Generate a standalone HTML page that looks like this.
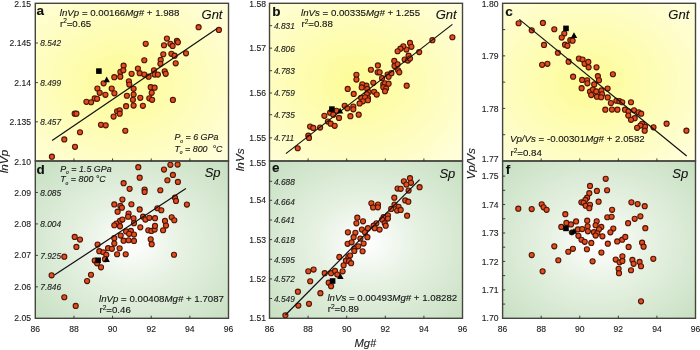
<!DOCTYPE html><html><head><meta charset="utf-8"><style>html,body{margin:0;padding:0;background:#fff;width:700px;height:350px;overflow:hidden}svg{display:block;will-change:transform}text{font-family:"Liberation Sans",sans-serif;stroke:#1a1a1a;stroke-width:0.12px}</style></head><body>
<svg width="700" height="350" viewBox="0 0 700 350">
<defs>
<radialGradient id="gy" cx="0.45" cy="0.5" r="0.72"><stop offset="0" stop-color="#FDFC96"/><stop offset="0.5" stop-color="#FEFDB8"/><stop offset="1" stop-color="#FFFEDC"/></radialGradient>
<radialGradient id="gg" cx="0.5" cy="0.52" r="0.72"><stop offset="0" stop-color="#FFFFFF"/><stop offset="0.38" stop-color="#E6F1E2"/><stop offset="1" stop-color="#C6DFC0"/></radialGradient>
</defs>
<rect x="35.3" y="3.3" width="193.20" height="157.70" fill="url(#gy)"/>
<rect x="269.5" y="3.3" width="193.00" height="157.70" fill="url(#gy)"/>
<rect x="502.6" y="3.3" width="192.90" height="157.70" fill="url(#gy)"/>
<rect x="35.3" y="161.0" width="193.20" height="157.30" fill="url(#gg)"/>
<rect x="269.5" y="161.0" width="193.00" height="157.30" fill="url(#gg)"/>
<rect x="502.6" y="161.0" width="192.90" height="157.30" fill="url(#gg)"/>
<circle cx="145.70" cy="43.85" r="2.55" fill="#E44C1C" stroke="#4E1608" stroke-width="1.1"/>
<circle cx="166.90" cy="38.55" r="2.55" fill="#E44C1C" stroke="#4E1608" stroke-width="1.1"/>
<circle cx="164.00" cy="45.25" r="2.55" fill="#E44C1C" stroke="#4E1608" stroke-width="1.1"/>
<circle cx="170.40" cy="43.85" r="2.55" fill="#E44C1C" stroke="#4E1608" stroke-width="1.1"/>
<circle cx="172.60" cy="45.95" r="2.55" fill="#E44C1C" stroke="#4E1608" stroke-width="1.1"/>
<circle cx="176.90" cy="40.95" r="2.55" fill="#E44C1C" stroke="#4E1608" stroke-width="1.1"/>
<circle cx="177.90" cy="42.35" r="2.55" fill="#E44C1C" stroke="#4E1608" stroke-width="1.1"/>
<circle cx="198.60" cy="27.15" r="2.55" fill="#E44C1C" stroke="#4E1608" stroke-width="1.1"/>
<circle cx="218.90" cy="29.95" r="2.55" fill="#E44C1C" stroke="#4E1608" stroke-width="1.1"/>
<circle cx="123.60" cy="65.65" r="2.55" fill="#E44C1C" stroke="#4E1608" stroke-width="1.1"/>
<circle cx="120.40" cy="71.95" r="2.55" fill="#E44C1C" stroke="#4E1608" stroke-width="1.1"/>
<circle cx="123.30" cy="70.25" r="2.55" fill="#E44C1C" stroke="#4E1608" stroke-width="1.1"/>
<circle cx="120.30" cy="76.65" r="2.55" fill="#E44C1C" stroke="#4E1608" stroke-width="1.1"/>
<circle cx="114.30" cy="77.15" r="2.55" fill="#E44C1C" stroke="#4E1608" stroke-width="1.1"/>
<circle cx="131.60" cy="73.85" r="2.55" fill="#E44C1C" stroke="#4E1608" stroke-width="1.1"/>
<circle cx="103.60" cy="83.35" r="2.55" fill="#E44C1C" stroke="#4E1608" stroke-width="1.1"/>
<circle cx="97.40" cy="88.55" r="2.55" fill="#E44C1C" stroke="#4E1608" stroke-width="1.1"/>
<circle cx="99.70" cy="92.85" r="2.55" fill="#E44C1C" stroke="#4E1608" stroke-width="1.1"/>
<circle cx="111.70" cy="88.55" r="2.55" fill="#E44C1C" stroke="#4E1608" stroke-width="1.1"/>
<circle cx="114.40" cy="93.35" r="2.55" fill="#E44C1C" stroke="#4E1608" stroke-width="1.1"/>
<circle cx="105.40" cy="94.85" r="2.55" fill="#E44C1C" stroke="#4E1608" stroke-width="1.1"/>
<circle cx="128.90" cy="81.35" r="2.55" fill="#E44C1C" stroke="#4E1608" stroke-width="1.1"/>
<circle cx="129.30" cy="84.55" r="2.55" fill="#E44C1C" stroke="#4E1608" stroke-width="1.1"/>
<circle cx="133.60" cy="88.85" r="2.55" fill="#E44C1C" stroke="#4E1608" stroke-width="1.1"/>
<circle cx="126.90" cy="95.75" r="2.55" fill="#E44C1C" stroke="#4E1608" stroke-width="1.1"/>
<circle cx="133.60" cy="94.55" r="2.55" fill="#E44C1C" stroke="#4E1608" stroke-width="1.1"/>
<circle cx="94.70" cy="98.45" r="2.55" fill="#E44C1C" stroke="#4E1608" stroke-width="1.1"/>
<circle cx="97.10" cy="98.85" r="2.55" fill="#E44C1C" stroke="#4E1608" stroke-width="1.1"/>
<circle cx="163.30" cy="54.25" r="2.55" fill="#E44C1C" stroke="#4E1608" stroke-width="1.1"/>
<circle cx="171.40" cy="53.85" r="2.55" fill="#E44C1C" stroke="#4E1608" stroke-width="1.1"/>
<circle cx="174.60" cy="55.65" r="2.55" fill="#E44C1C" stroke="#4E1608" stroke-width="1.1"/>
<circle cx="186.00" cy="53.35" r="2.55" fill="#E44C1C" stroke="#4E1608" stroke-width="1.1"/>
<circle cx="144.30" cy="60.25" r="2.55" fill="#E44C1C" stroke="#4E1608" stroke-width="1.1"/>
<circle cx="160.70" cy="59.95" r="2.55" fill="#E44C1C" stroke="#4E1608" stroke-width="1.1"/>
<circle cx="160.40" cy="63.85" r="2.55" fill="#E44C1C" stroke="#4E1608" stroke-width="1.1"/>
<circle cx="175.70" cy="63.35" r="2.55" fill="#E44C1C" stroke="#4E1608" stroke-width="1.1"/>
<circle cx="137.90" cy="68.55" r="2.55" fill="#E44C1C" stroke="#4E1608" stroke-width="1.1"/>
<circle cx="139.70" cy="73.15" r="2.55" fill="#E44C1C" stroke="#4E1608" stroke-width="1.1"/>
<circle cx="144.30" cy="74.55" r="2.55" fill="#E44C1C" stroke="#4E1608" stroke-width="1.1"/>
<circle cx="148.60" cy="76.65" r="2.55" fill="#E44C1C" stroke="#4E1608" stroke-width="1.1"/>
<circle cx="154.00" cy="70.25" r="2.55" fill="#E44C1C" stroke="#4E1608" stroke-width="1.1"/>
<circle cx="154.60" cy="74.55" r="2.55" fill="#E44C1C" stroke="#4E1608" stroke-width="1.1"/>
<circle cx="157.90" cy="74.55" r="2.55" fill="#E44C1C" stroke="#4E1608" stroke-width="1.1"/>
<circle cx="164.70" cy="71.35" r="2.55" fill="#E44C1C" stroke="#4E1608" stroke-width="1.1"/>
<circle cx="165.70" cy="73.85" r="2.55" fill="#E44C1C" stroke="#4E1608" stroke-width="1.1"/>
<circle cx="150.70" cy="87.15" r="2.55" fill="#E44C1C" stroke="#4E1608" stroke-width="1.1"/>
<circle cx="154.60" cy="87.65" r="2.55" fill="#E44C1C" stroke="#4E1608" stroke-width="1.1"/>
<circle cx="151.70" cy="92.85" r="2.55" fill="#E44C1C" stroke="#4E1608" stroke-width="1.1"/>
<circle cx="140.30" cy="97.85" r="2.55" fill="#E44C1C" stroke="#4E1608" stroke-width="1.1"/>
<circle cx="149.30" cy="98.35" r="2.55" fill="#E44C1C" stroke="#4E1608" stroke-width="1.1"/>
<circle cx="152.10" cy="99.85" r="2.55" fill="#E44C1C" stroke="#4E1608" stroke-width="1.1"/>
<circle cx="172.90" cy="99.95" r="2.55" fill="#E44C1C" stroke="#4E1608" stroke-width="1.1"/>
<circle cx="132.90" cy="99.85" r="2.55" fill="#E44C1C" stroke="#4E1608" stroke-width="1.1"/>
<circle cx="86.40" cy="101.85" r="2.55" fill="#E44C1C" stroke="#4E1608" stroke-width="1.1"/>
<circle cx="91.10" cy="102.25" r="2.55" fill="#E44C1C" stroke="#4E1608" stroke-width="1.1"/>
<circle cx="74.70" cy="113.65" r="2.55" fill="#E44C1C" stroke="#4E1608" stroke-width="1.1"/>
<circle cx="76.40" cy="113.65" r="2.55" fill="#E44C1C" stroke="#4E1608" stroke-width="1.1"/>
<circle cx="126.10" cy="106.15" r="2.55" fill="#E44C1C" stroke="#4E1608" stroke-width="1.1"/>
<circle cx="133.60" cy="105.55" r="2.55" fill="#E44C1C" stroke="#4E1608" stroke-width="1.1"/>
<circle cx="117.10" cy="111.25" r="2.55" fill="#E44C1C" stroke="#4E1608" stroke-width="1.1"/>
<circle cx="119.70" cy="110.35" r="2.55" fill="#E44C1C" stroke="#4E1608" stroke-width="1.1"/>
<circle cx="119.70" cy="113.65" r="2.55" fill="#E44C1C" stroke="#4E1608" stroke-width="1.1"/>
<circle cx="113.60" cy="116.55" r="2.55" fill="#E44C1C" stroke="#4E1608" stroke-width="1.1"/>
<circle cx="101.00" cy="124.85" r="2.55" fill="#E44C1C" stroke="#4E1608" stroke-width="1.1"/>
<circle cx="105.70" cy="125.35" r="2.55" fill="#E44C1C" stroke="#4E1608" stroke-width="1.1"/>
<circle cx="125.30" cy="130.75" r="2.55" fill="#E44C1C" stroke="#4E1608" stroke-width="1.1"/>
<circle cx="80.00" cy="132.25" r="2.55" fill="#E44C1C" stroke="#4E1608" stroke-width="1.1"/>
<circle cx="64.30" cy="139.45" r="2.55" fill="#E44C1C" stroke="#4E1608" stroke-width="1.1"/>
<circle cx="75.00" cy="146.85" r="2.55" fill="#E44C1C" stroke="#4E1608" stroke-width="1.1"/>
<circle cx="142.90" cy="105.85" r="2.55" fill="#E44C1C" stroke="#4E1608" stroke-width="1.1"/>
<circle cx="51.90" cy="156.65" r="2.55" fill="#E44C1C" stroke="#4E1608" stroke-width="1.1"/>
<circle cx="452.40" cy="37.25" r="2.55" fill="#E44C1C" stroke="#4E1608" stroke-width="1.1"/>
<circle cx="432.40" cy="40.15" r="2.55" fill="#E44C1C" stroke="#4E1608" stroke-width="1.1"/>
<circle cx="410.00" cy="42.95" r="2.55" fill="#E44C1C" stroke="#4E1608" stroke-width="1.1"/>
<circle cx="411.40" cy="46.85" r="2.55" fill="#E44C1C" stroke="#4E1608" stroke-width="1.1"/>
<circle cx="406.40" cy="49.55" r="2.55" fill="#E44C1C" stroke="#4E1608" stroke-width="1.1"/>
<circle cx="403.30" cy="46.35" r="2.55" fill="#E44C1C" stroke="#4E1608" stroke-width="1.1"/>
<circle cx="400.40" cy="48.65" r="2.55" fill="#E44C1C" stroke="#4E1608" stroke-width="1.1"/>
<circle cx="397.60" cy="51.25" r="2.55" fill="#E44C1C" stroke="#4E1608" stroke-width="1.1"/>
<circle cx="419.20" cy="52.05" r="2.55" fill="#E44C1C" stroke="#4E1608" stroke-width="1.1"/>
<circle cx="408.60" cy="55.65" r="2.55" fill="#E44C1C" stroke="#4E1608" stroke-width="1.1"/>
<circle cx="404.70" cy="59.55" r="2.55" fill="#E44C1C" stroke="#4E1608" stroke-width="1.1"/>
<circle cx="407.90" cy="60.55" r="2.55" fill="#E44C1C" stroke="#4E1608" stroke-width="1.1"/>
<circle cx="410.00" cy="58.55" r="2.55" fill="#E44C1C" stroke="#4E1608" stroke-width="1.1"/>
<circle cx="394.30" cy="60.95" r="2.55" fill="#E44C1C" stroke="#4E1608" stroke-width="1.1"/>
<circle cx="394.50" cy="65.95" r="2.55" fill="#E44C1C" stroke="#4E1608" stroke-width="1.1"/>
<circle cx="397.60" cy="64.25" r="2.55" fill="#E44C1C" stroke="#4E1608" stroke-width="1.1"/>
<circle cx="398.10" cy="70.25" r="2.55" fill="#E44C1C" stroke="#4E1608" stroke-width="1.1"/>
<circle cx="399.30" cy="72.35" r="2.55" fill="#E44C1C" stroke="#4E1608" stroke-width="1.1"/>
<circle cx="377.90" cy="65.45" r="2.55" fill="#E44C1C" stroke="#4E1608" stroke-width="1.1"/>
<circle cx="370.90" cy="69.75" r="2.55" fill="#E44C1C" stroke="#4E1608" stroke-width="1.1"/>
<circle cx="377.60" cy="72.35" r="2.55" fill="#E44C1C" stroke="#4E1608" stroke-width="1.1"/>
<circle cx="379.60" cy="72.35" r="2.55" fill="#E44C1C" stroke="#4E1608" stroke-width="1.1"/>
<circle cx="382.10" cy="78.15" r="2.55" fill="#E44C1C" stroke="#4E1608" stroke-width="1.1"/>
<circle cx="387.60" cy="74.55" r="2.55" fill="#E44C1C" stroke="#4E1608" stroke-width="1.1"/>
<circle cx="388.60" cy="76.65" r="2.55" fill="#E44C1C" stroke="#4E1608" stroke-width="1.1"/>
<circle cx="391.40" cy="73.15" r="2.55" fill="#E44C1C" stroke="#4E1608" stroke-width="1.1"/>
<circle cx="373.30" cy="82.85" r="2.55" fill="#E44C1C" stroke="#4E1608" stroke-width="1.1"/>
<circle cx="383.30" cy="84.25" r="2.55" fill="#E44C1C" stroke="#4E1608" stroke-width="1.1"/>
<circle cx="385.00" cy="83.35" r="2.55" fill="#E44C1C" stroke="#4E1608" stroke-width="1.1"/>
<circle cx="388.60" cy="83.65" r="2.55" fill="#E44C1C" stroke="#4E1608" stroke-width="1.1"/>
<circle cx="383.30" cy="87.15" r="2.55" fill="#E44C1C" stroke="#4E1608" stroke-width="1.1"/>
<circle cx="386.10" cy="88.55" r="2.55" fill="#E44C1C" stroke="#4E1608" stroke-width="1.1"/>
<circle cx="385.00" cy="91.15" r="2.55" fill="#E44C1C" stroke="#4E1608" stroke-width="1.1"/>
<circle cx="406.70" cy="85.65" r="2.55" fill="#E44C1C" stroke="#4E1608" stroke-width="1.1"/>
<circle cx="366.40" cy="85.65" r="2.55" fill="#E44C1C" stroke="#4E1608" stroke-width="1.1"/>
<circle cx="367.30" cy="88.95" r="2.55" fill="#E44C1C" stroke="#4E1608" stroke-width="1.1"/>
<circle cx="374.10" cy="91.85" r="2.55" fill="#E44C1C" stroke="#4E1608" stroke-width="1.1"/>
<circle cx="376.70" cy="94.55" r="2.55" fill="#E44C1C" stroke="#4E1608" stroke-width="1.1"/>
<circle cx="368.60" cy="92.35" r="2.55" fill="#E44C1C" stroke="#4E1608" stroke-width="1.1"/>
<circle cx="366.80" cy="94.15" r="2.55" fill="#E44C1C" stroke="#4E1608" stroke-width="1.1"/>
<circle cx="368.00" cy="98.15" r="2.55" fill="#E44C1C" stroke="#4E1608" stroke-width="1.1"/>
<circle cx="356.40" cy="74.85" r="2.55" fill="#E44C1C" stroke="#4E1608" stroke-width="1.1"/>
<circle cx="356.40" cy="79.55" r="2.55" fill="#E44C1C" stroke="#4E1608" stroke-width="1.1"/>
<circle cx="347.70" cy="88.95" r="2.55" fill="#E44C1C" stroke="#4E1608" stroke-width="1.1"/>
<circle cx="353.70" cy="93.95" r="2.55" fill="#E44C1C" stroke="#4E1608" stroke-width="1.1"/>
<circle cx="362.30" cy="84.35" r="2.55" fill="#E44C1C" stroke="#4E1608" stroke-width="1.1"/>
<circle cx="361.70" cy="87.45" r="2.55" fill="#E44C1C" stroke="#4E1608" stroke-width="1.1"/>
<circle cx="361.10" cy="97.75" r="2.55" fill="#E44C1C" stroke="#4E1608" stroke-width="1.1"/>
<circle cx="365.00" cy="97.35" r="2.55" fill="#E44C1C" stroke="#4E1608" stroke-width="1.1"/>
<circle cx="367.90" cy="100.25" r="2.55" fill="#E44C1C" stroke="#4E1608" stroke-width="1.1"/>
<circle cx="362.90" cy="101.35" r="2.55" fill="#E44C1C" stroke="#4E1608" stroke-width="1.1"/>
<circle cx="359.60" cy="103.45" r="2.55" fill="#E44C1C" stroke="#4E1608" stroke-width="1.1"/>
<circle cx="336.40" cy="110.85" r="2.55" fill="#E44C1C" stroke="#4E1608" stroke-width="1.1"/>
<circle cx="330.10" cy="112.65" r="2.55" fill="#E44C1C" stroke="#4E1608" stroke-width="1.1"/>
<circle cx="333.30" cy="114.65" r="2.55" fill="#E44C1C" stroke="#4E1608" stroke-width="1.1"/>
<circle cx="324.40" cy="115.85" r="2.55" fill="#E44C1C" stroke="#4E1608" stroke-width="1.1"/>
<circle cx="339.00" cy="117.95" r="2.55" fill="#E44C1C" stroke="#4E1608" stroke-width="1.1"/>
<circle cx="327.90" cy="121.55" r="2.55" fill="#E44C1C" stroke="#4E1608" stroke-width="1.1"/>
<circle cx="330.70" cy="123.65" r="2.55" fill="#E44C1C" stroke="#4E1608" stroke-width="1.1"/>
<circle cx="334.70" cy="125.85" r="2.55" fill="#E44C1C" stroke="#4E1608" stroke-width="1.1"/>
<circle cx="320.10" cy="127.55" r="2.55" fill="#E44C1C" stroke="#4E1608" stroke-width="1.1"/>
<circle cx="310.10" cy="126.55" r="2.55" fill="#E44C1C" stroke="#4E1608" stroke-width="1.1"/>
<circle cx="313.30" cy="127.95" r="2.55" fill="#E44C1C" stroke="#4E1608" stroke-width="1.1"/>
<circle cx="308.30" cy="135.65" r="2.55" fill="#E44C1C" stroke="#4E1608" stroke-width="1.1"/>
<circle cx="309.00" cy="137.95" r="2.55" fill="#E44C1C" stroke="#4E1608" stroke-width="1.1"/>
<circle cx="297.70" cy="148.25" r="2.55" fill="#E44C1C" stroke="#4E1608" stroke-width="1.1"/>
<circle cx="344.70" cy="105.85" r="2.55" fill="#E44C1C" stroke="#4E1608" stroke-width="1.1"/>
<circle cx="347.30" cy="108.35" r="2.55" fill="#E44C1C" stroke="#4E1608" stroke-width="1.1"/>
<circle cx="353.30" cy="106.55" r="2.55" fill="#E44C1C" stroke="#4E1608" stroke-width="1.1"/>
<circle cx="353.30" cy="109.35" r="2.55" fill="#E44C1C" stroke="#4E1608" stroke-width="1.1"/>
<circle cx="350.40" cy="116.15" r="2.55" fill="#E44C1C" stroke="#4E1608" stroke-width="1.1"/>
<circle cx="358.70" cy="114.65" r="2.55" fill="#E44C1C" stroke="#4E1608" stroke-width="1.1"/>
<circle cx="518.60" cy="23.25" r="2.55" fill="#E44C1C" stroke="#4E1608" stroke-width="1.1"/>
<circle cx="531.70" cy="30.35" r="2.55" fill="#E44C1C" stroke="#4E1608" stroke-width="1.1"/>
<circle cx="542.90" cy="22.95" r="2.55" fill="#E44C1C" stroke="#4E1608" stroke-width="1.1"/>
<circle cx="554.30" cy="29.25" r="2.55" fill="#E44C1C" stroke="#4E1608" stroke-width="1.1"/>
<circle cx="564.30" cy="33.55" r="2.55" fill="#E44C1C" stroke="#4E1608" stroke-width="1.1"/>
<circle cx="561.70" cy="37.55" r="2.55" fill="#E44C1C" stroke="#4E1608" stroke-width="1.1"/>
<circle cx="570.30" cy="40.15" r="2.55" fill="#E44C1C" stroke="#4E1608" stroke-width="1.1"/>
<circle cx="572.60" cy="40.65" r="2.55" fill="#E44C1C" stroke="#4E1608" stroke-width="1.1"/>
<circle cx="544.00" cy="44.95" r="2.55" fill="#E44C1C" stroke="#4E1608" stroke-width="1.1"/>
<circle cx="565.00" cy="44.65" r="2.55" fill="#E44C1C" stroke="#4E1608" stroke-width="1.1"/>
<circle cx="567.40" cy="45.85" r="2.55" fill="#E44C1C" stroke="#4E1608" stroke-width="1.1"/>
<circle cx="557.90" cy="52.75" r="2.55" fill="#E44C1C" stroke="#4E1608" stroke-width="1.1"/>
<circle cx="542.10" cy="64.85" r="2.55" fill="#E44C1C" stroke="#4E1608" stroke-width="1.1"/>
<circle cx="547.40" cy="63.85" r="2.55" fill="#E44C1C" stroke="#4E1608" stroke-width="1.1"/>
<circle cx="568.60" cy="61.65" r="2.55" fill="#E44C1C" stroke="#4E1608" stroke-width="1.1"/>
<circle cx="578.90" cy="58.55" r="2.55" fill="#E44C1C" stroke="#4E1608" stroke-width="1.1"/>
<circle cx="582.60" cy="59.55" r="2.55" fill="#E44C1C" stroke="#4E1608" stroke-width="1.1"/>
<circle cx="584.60" cy="63.85" r="2.55" fill="#E44C1C" stroke="#4E1608" stroke-width="1.1"/>
<circle cx="588.30" cy="61.95" r="2.55" fill="#E44C1C" stroke="#4E1608" stroke-width="1.1"/>
<circle cx="588.60" cy="67.35" r="2.55" fill="#E44C1C" stroke="#4E1608" stroke-width="1.1"/>
<circle cx="596.50" cy="67.35" r="2.55" fill="#E44C1C" stroke="#4E1608" stroke-width="1.1"/>
<circle cx="573.10" cy="76.65" r="2.55" fill="#E44C1C" stroke="#4E1608" stroke-width="1.1"/>
<circle cx="582.10" cy="79.95" r="2.55" fill="#E44C1C" stroke="#4E1608" stroke-width="1.1"/>
<circle cx="587.10" cy="80.25" r="2.55" fill="#E44C1C" stroke="#4E1608" stroke-width="1.1"/>
<circle cx="587.40" cy="83.35" r="2.55" fill="#E44C1C" stroke="#4E1608" stroke-width="1.1"/>
<circle cx="594.20" cy="84.45" r="2.55" fill="#E44C1C" stroke="#4E1608" stroke-width="1.1"/>
<circle cx="597.90" cy="76.15" r="2.55" fill="#E44C1C" stroke="#4E1608" stroke-width="1.1"/>
<circle cx="599.00" cy="80.25" r="2.55" fill="#E44C1C" stroke="#4E1608" stroke-width="1.1"/>
<circle cx="581.60" cy="88.15" r="2.55" fill="#E44C1C" stroke="#4E1608" stroke-width="1.1"/>
<circle cx="590.00" cy="91.65" r="2.55" fill="#E44C1C" stroke="#4E1608" stroke-width="1.1"/>
<circle cx="592.90" cy="89.55" r="2.55" fill="#E44C1C" stroke="#4E1608" stroke-width="1.1"/>
<circle cx="596.20" cy="91.45" r="2.55" fill="#E44C1C" stroke="#4E1608" stroke-width="1.1"/>
<circle cx="591.20" cy="95.05" r="2.55" fill="#E44C1C" stroke="#4E1608" stroke-width="1.1"/>
<circle cx="596.90" cy="96.65" r="2.55" fill="#E44C1C" stroke="#4E1608" stroke-width="1.1"/>
<circle cx="601.40" cy="90.45" r="2.55" fill="#E44C1C" stroke="#4E1608" stroke-width="1.1"/>
<circle cx="602.10" cy="94.25" r="2.55" fill="#E44C1C" stroke="#4E1608" stroke-width="1.1"/>
<circle cx="601.20" cy="97.25" r="2.55" fill="#E44C1C" stroke="#4E1608" stroke-width="1.1"/>
<circle cx="612.90" cy="74.25" r="2.55" fill="#E44C1C" stroke="#4E1608" stroke-width="1.1"/>
<circle cx="607.60" cy="88.55" r="2.55" fill="#E44C1C" stroke="#4E1608" stroke-width="1.1"/>
<circle cx="607.70" cy="97.45" r="2.55" fill="#E44C1C" stroke="#4E1608" stroke-width="1.1"/>
<circle cx="610.90" cy="103.05" r="2.55" fill="#E44C1C" stroke="#4E1608" stroke-width="1.1"/>
<circle cx="616.40" cy="100.75" r="2.55" fill="#E44C1C" stroke="#4E1608" stroke-width="1.1"/>
<circle cx="619.40" cy="101.15" r="2.55" fill="#E44C1C" stroke="#4E1608" stroke-width="1.1"/>
<circle cx="622.20" cy="102.25" r="2.55" fill="#E44C1C" stroke="#4E1608" stroke-width="1.1"/>
<circle cx="631.00" cy="102.25" r="2.55" fill="#E44C1C" stroke="#4E1608" stroke-width="1.1"/>
<circle cx="605.30" cy="109.65" r="2.55" fill="#E44C1C" stroke="#4E1608" stroke-width="1.1"/>
<circle cx="612.00" cy="109.55" r="2.55" fill="#E44C1C" stroke="#4E1608" stroke-width="1.1"/>
<circle cx="617.40" cy="109.65" r="2.55" fill="#E44C1C" stroke="#4E1608" stroke-width="1.1"/>
<circle cx="625.00" cy="109.65" r="2.55" fill="#E44C1C" stroke="#4E1608" stroke-width="1.1"/>
<circle cx="628.50" cy="111.25" r="2.55" fill="#E44C1C" stroke="#4E1608" stroke-width="1.1"/>
<circle cx="634.00" cy="110.25" r="2.55" fill="#E44C1C" stroke="#4E1608" stroke-width="1.1"/>
<circle cx="638.60" cy="112.35" r="2.55" fill="#E44C1C" stroke="#4E1608" stroke-width="1.1"/>
<circle cx="641.20" cy="113.65" r="2.55" fill="#E44C1C" stroke="#4E1608" stroke-width="1.1"/>
<circle cx="628.30" cy="115.55" r="2.55" fill="#E44C1C" stroke="#4E1608" stroke-width="1.1"/>
<circle cx="634.70" cy="118.15" r="2.55" fill="#E44C1C" stroke="#4E1608" stroke-width="1.1"/>
<circle cx="631.00" cy="119.85" r="2.55" fill="#E44C1C" stroke="#4E1608" stroke-width="1.1"/>
<circle cx="666.60" cy="123.65" r="2.55" fill="#E44C1C" stroke="#4E1608" stroke-width="1.1"/>
<circle cx="653.50" cy="127.35" r="2.55" fill="#E44C1C" stroke="#4E1608" stroke-width="1.1"/>
<circle cx="642.10" cy="123.85" r="2.55" fill="#E44C1C" stroke="#4E1608" stroke-width="1.1"/>
<circle cx="645.00" cy="126.65" r="2.55" fill="#E44C1C" stroke="#4E1608" stroke-width="1.1"/>
<circle cx="640.40" cy="125.55" r="2.55" fill="#E44C1C" stroke="#4E1608" stroke-width="1.1"/>
<circle cx="637.10" cy="127.85" r="2.55" fill="#E44C1C" stroke="#4E1608" stroke-width="1.1"/>
<circle cx="644.70" cy="130.65" r="2.55" fill="#E44C1C" stroke="#4E1608" stroke-width="1.1"/>
<circle cx="686.40" cy="130.65" r="2.55" fill="#E44C1C" stroke="#4E1608" stroke-width="1.1"/>
<circle cx="123.60" cy="183.15" r="2.55" fill="#E44C1C" stroke="#4E1608" stroke-width="1.1"/>
<circle cx="129.60" cy="188.85" r="2.55" fill="#E44C1C" stroke="#4E1608" stroke-width="1.1"/>
<circle cx="122.40" cy="199.55" r="2.55" fill="#E44C1C" stroke="#4E1608" stroke-width="1.1"/>
<circle cx="114.30" cy="204.45" r="2.55" fill="#E44C1C" stroke="#4E1608" stroke-width="1.1"/>
<circle cx="120.40" cy="205.95" r="2.55" fill="#E44C1C" stroke="#4E1608" stroke-width="1.1"/>
<circle cx="121.90" cy="207.75" r="2.55" fill="#E44C1C" stroke="#4E1608" stroke-width="1.1"/>
<circle cx="131.40" cy="204.25" r="2.55" fill="#E44C1C" stroke="#4E1608" stroke-width="1.1"/>
<circle cx="138.30" cy="167.15" r="2.55" fill="#E44C1C" stroke="#4E1608" stroke-width="1.1"/>
<circle cx="170.40" cy="164.85" r="2.55" fill="#E44C1C" stroke="#4E1608" stroke-width="1.1"/>
<circle cx="177.60" cy="164.55" r="2.55" fill="#E44C1C" stroke="#4E1608" stroke-width="1.1"/>
<circle cx="164.00" cy="169.55" r="2.55" fill="#E44C1C" stroke="#4E1608" stroke-width="1.1"/>
<circle cx="172.90" cy="174.95" r="2.55" fill="#E44C1C" stroke="#4E1608" stroke-width="1.1"/>
<circle cx="139.70" cy="177.65" r="2.55" fill="#E44C1C" stroke="#4E1608" stroke-width="1.1"/>
<circle cx="167.40" cy="180.25" r="2.55" fill="#E44C1C" stroke="#4E1608" stroke-width="1.1"/>
<circle cx="177.90" cy="181.95" r="2.55" fill="#E44C1C" stroke="#4E1608" stroke-width="1.1"/>
<circle cx="144.60" cy="189.55" r="2.55" fill="#E44C1C" stroke="#4E1608" stroke-width="1.1"/>
<circle cx="144.60" cy="191.95" r="2.55" fill="#E44C1C" stroke="#4E1608" stroke-width="1.1"/>
<circle cx="160.30" cy="190.25" r="2.55" fill="#E44C1C" stroke="#4E1608" stroke-width="1.1"/>
<circle cx="175.00" cy="197.65" r="2.55" fill="#E44C1C" stroke="#4E1608" stroke-width="1.1"/>
<circle cx="176.00" cy="200.95" r="2.55" fill="#E44C1C" stroke="#4E1608" stroke-width="1.1"/>
<circle cx="186.90" cy="204.55" r="2.55" fill="#E44C1C" stroke="#4E1608" stroke-width="1.1"/>
<circle cx="139.70" cy="209.45" r="2.55" fill="#E44C1C" stroke="#4E1608" stroke-width="1.1"/>
<circle cx="157.40" cy="208.25" r="2.55" fill="#E44C1C" stroke="#4E1608" stroke-width="1.1"/>
<circle cx="161.30" cy="210.25" r="2.55" fill="#E44C1C" stroke="#4E1608" stroke-width="1.1"/>
<circle cx="117.60" cy="211.65" r="2.55" fill="#E44C1C" stroke="#4E1608" stroke-width="1.1"/>
<circle cx="128.60" cy="213.55" r="2.55" fill="#E44C1C" stroke="#4E1608" stroke-width="1.1"/>
<circle cx="128.10" cy="216.65" r="2.55" fill="#E44C1C" stroke="#4E1608" stroke-width="1.1"/>
<circle cx="133.50" cy="218.25" r="2.55" fill="#E44C1C" stroke="#4E1608" stroke-width="1.1"/>
<circle cx="120.00" cy="220.95" r="2.55" fill="#E44C1C" stroke="#4E1608" stroke-width="1.1"/>
<circle cx="122.40" cy="219.55" r="2.55" fill="#E44C1C" stroke="#4E1608" stroke-width="1.1"/>
<circle cx="116.40" cy="223.55" r="2.55" fill="#E44C1C" stroke="#4E1608" stroke-width="1.1"/>
<circle cx="114.30" cy="225.25" r="2.55" fill="#E44C1C" stroke="#4E1608" stroke-width="1.1"/>
<circle cx="120.00" cy="226.35" r="2.55" fill="#E44C1C" stroke="#4E1608" stroke-width="1.1"/>
<circle cx="134.00" cy="223.15" r="2.55" fill="#E44C1C" stroke="#4E1608" stroke-width="1.1"/>
<circle cx="126.10" cy="231.45" r="2.55" fill="#E44C1C" stroke="#4E1608" stroke-width="1.1"/>
<circle cx="130.90" cy="230.95" r="2.55" fill="#E44C1C" stroke="#4E1608" stroke-width="1.1"/>
<circle cx="129.10" cy="233.85" r="2.55" fill="#E44C1C" stroke="#4E1608" stroke-width="1.1"/>
<circle cx="134.00" cy="234.55" r="2.55" fill="#E44C1C" stroke="#4E1608" stroke-width="1.1"/>
<circle cx="120.70" cy="235.55" r="2.55" fill="#E44C1C" stroke="#4E1608" stroke-width="1.1"/>
<circle cx="114.30" cy="238.15" r="2.55" fill="#E44C1C" stroke="#4E1608" stroke-width="1.1"/>
<circle cx="123.60" cy="240.65" r="2.55" fill="#E44C1C" stroke="#4E1608" stroke-width="1.1"/>
<circle cx="128.60" cy="240.25" r="2.55" fill="#E44C1C" stroke="#4E1608" stroke-width="1.1"/>
<circle cx="134.00" cy="240.95" r="2.55" fill="#E44C1C" stroke="#4E1608" stroke-width="1.1"/>
<circle cx="74.70" cy="236.95" r="2.55" fill="#E44C1C" stroke="#4E1608" stroke-width="1.1"/>
<circle cx="80.00" cy="239.55" r="2.55" fill="#E44C1C" stroke="#4E1608" stroke-width="1.1"/>
<circle cx="76.40" cy="246.95" r="2.55" fill="#E44C1C" stroke="#4E1608" stroke-width="1.1"/>
<circle cx="97.60" cy="244.55" r="2.55" fill="#E44C1C" stroke="#4E1608" stroke-width="1.1"/>
<circle cx="114.30" cy="243.55" r="2.55" fill="#E44C1C" stroke="#4E1608" stroke-width="1.1"/>
<circle cx="108.10" cy="248.15" r="2.55" fill="#E44C1C" stroke="#4E1608" stroke-width="1.1"/>
<circle cx="111.90" cy="248.85" r="2.55" fill="#E44C1C" stroke="#4E1608" stroke-width="1.1"/>
<circle cx="119.60" cy="248.35" r="2.55" fill="#E44C1C" stroke="#4E1608" stroke-width="1.1"/>
<circle cx="99.30" cy="251.15" r="2.55" fill="#E44C1C" stroke="#4E1608" stroke-width="1.1"/>
<circle cx="103.40" cy="252.25" r="2.55" fill="#E44C1C" stroke="#4E1608" stroke-width="1.1"/>
<circle cx="117.10" cy="254.25" r="2.55" fill="#E44C1C" stroke="#4E1608" stroke-width="1.1"/>
<circle cx="125.70" cy="254.25" r="2.55" fill="#E44C1C" stroke="#4E1608" stroke-width="1.1"/>
<circle cx="106.30" cy="254.75" r="2.55" fill="#E44C1C" stroke="#4E1608" stroke-width="1.1"/>
<circle cx="143.10" cy="216.65" r="2.55" fill="#E44C1C" stroke="#4E1608" stroke-width="1.1"/>
<circle cx="145.40" cy="219.55" r="2.55" fill="#E44C1C" stroke="#4E1608" stroke-width="1.1"/>
<circle cx="149.30" cy="217.85" r="2.55" fill="#E44C1C" stroke="#4E1608" stroke-width="1.1"/>
<circle cx="155.00" cy="218.15" r="2.55" fill="#E44C1C" stroke="#4E1608" stroke-width="1.1"/>
<circle cx="140.30" cy="227.35" r="2.55" fill="#E44C1C" stroke="#4E1608" stroke-width="1.1"/>
<circle cx="148.30" cy="230.25" r="2.55" fill="#E44C1C" stroke="#4E1608" stroke-width="1.1"/>
<circle cx="151.40" cy="230.95" r="2.55" fill="#E44C1C" stroke="#4E1608" stroke-width="1.1"/>
<circle cx="154.60" cy="229.55" r="2.55" fill="#E44C1C" stroke="#4E1608" stroke-width="1.1"/>
<circle cx="155.00" cy="225.95" r="2.55" fill="#E44C1C" stroke="#4E1608" stroke-width="1.1"/>
<circle cx="165.00" cy="220.95" r="2.55" fill="#E44C1C" stroke="#4E1608" stroke-width="1.1"/>
<circle cx="166.00" cy="225.55" r="2.55" fill="#E44C1C" stroke="#4E1608" stroke-width="1.1"/>
<circle cx="163.10" cy="230.25" r="2.55" fill="#E44C1C" stroke="#4E1608" stroke-width="1.1"/>
<circle cx="171.70" cy="217.35" r="2.55" fill="#E44C1C" stroke="#4E1608" stroke-width="1.1"/>
<circle cx="174.30" cy="220.25" r="2.55" fill="#E44C1C" stroke="#4E1608" stroke-width="1.1"/>
<circle cx="150.70" cy="239.25" r="2.55" fill="#E44C1C" stroke="#4E1608" stroke-width="1.1"/>
<circle cx="151.70" cy="244.15" r="2.55" fill="#E44C1C" stroke="#4E1608" stroke-width="1.1"/>
<circle cx="174.00" cy="254.75" r="2.55" fill="#E44C1C" stroke="#4E1608" stroke-width="1.1"/>
<circle cx="64.30" cy="256.65" r="2.55" fill="#E44C1C" stroke="#4E1608" stroke-width="1.1"/>
<circle cx="51.60" cy="275.35" r="2.55" fill="#E44C1C" stroke="#4E1608" stroke-width="1.1"/>
<circle cx="64.30" cy="297.25" r="2.55" fill="#E44C1C" stroke="#4E1608" stroke-width="1.1"/>
<circle cx="87.10" cy="281.05" r="2.55" fill="#E44C1C" stroke="#4E1608" stroke-width="1.1"/>
<circle cx="91.00" cy="274.75" r="2.55" fill="#E44C1C" stroke="#4E1608" stroke-width="1.1"/>
<circle cx="101.00" cy="267.35" r="2.55" fill="#E44C1C" stroke="#4E1608" stroke-width="1.1"/>
<circle cx="94.70" cy="260.55" r="2.55" fill="#E44C1C" stroke="#4E1608" stroke-width="1.1"/>
<circle cx="97.10" cy="263.35" r="2.55" fill="#E44C1C" stroke="#4E1608" stroke-width="1.1"/>
<circle cx="105.00" cy="259.15" r="2.55" fill="#E44C1C" stroke="#4E1608" stroke-width="1.1"/>
<circle cx="75.70" cy="305.95" r="2.55" fill="#E44C1C" stroke="#4E1608" stroke-width="1.1"/>
<circle cx="410.00" cy="178.15" r="2.55" fill="#E44C1C" stroke="#4E1608" stroke-width="1.1"/>
<circle cx="403.90" cy="181.35" r="2.55" fill="#E44C1C" stroke="#4E1608" stroke-width="1.1"/>
<circle cx="406.40" cy="184.55" r="2.55" fill="#E44C1C" stroke="#4E1608" stroke-width="1.1"/>
<circle cx="411.00" cy="182.85" r="2.55" fill="#E44C1C" stroke="#4E1608" stroke-width="1.1"/>
<circle cx="419.60" cy="187.15" r="2.55" fill="#E44C1C" stroke="#4E1608" stroke-width="1.1"/>
<circle cx="397.60" cy="188.55" r="2.55" fill="#E44C1C" stroke="#4E1608" stroke-width="1.1"/>
<circle cx="400.70" cy="188.85" r="2.55" fill="#E44C1C" stroke="#4E1608" stroke-width="1.1"/>
<circle cx="408.60" cy="190.55" r="2.55" fill="#E44C1C" stroke="#4E1608" stroke-width="1.1"/>
<circle cx="394.30" cy="197.65" r="2.55" fill="#E44C1C" stroke="#4E1608" stroke-width="1.1"/>
<circle cx="405.20" cy="200.45" r="2.55" fill="#E44C1C" stroke="#4E1608" stroke-width="1.1"/>
<circle cx="408.30" cy="201.65" r="2.55" fill="#E44C1C" stroke="#4E1608" stroke-width="1.1"/>
<circle cx="371.40" cy="203.25" r="2.55" fill="#E44C1C" stroke="#4E1608" stroke-width="1.1"/>
<circle cx="378.00" cy="204.55" r="2.55" fill="#E44C1C" stroke="#4E1608" stroke-width="1.1"/>
<circle cx="373.10" cy="207.45" r="2.55" fill="#E44C1C" stroke="#4E1608" stroke-width="1.1"/>
<circle cx="377.90" cy="207.35" r="2.55" fill="#E44C1C" stroke="#4E1608" stroke-width="1.1"/>
<circle cx="394.50" cy="204.55" r="2.55" fill="#E44C1C" stroke="#4E1608" stroke-width="1.1"/>
<circle cx="398.60" cy="206.85" r="2.55" fill="#E44C1C" stroke="#4E1608" stroke-width="1.1"/>
<circle cx="391.20" cy="208.95" r="2.55" fill="#E44C1C" stroke="#4E1608" stroke-width="1.1"/>
<circle cx="397.10" cy="210.55" r="2.55" fill="#E44C1C" stroke="#4E1608" stroke-width="1.1"/>
<circle cx="400.70" cy="209.95" r="2.55" fill="#E44C1C" stroke="#4E1608" stroke-width="1.1"/>
<circle cx="357.30" cy="217.65" r="2.55" fill="#E44C1C" stroke="#4E1608" stroke-width="1.1"/>
<circle cx="363.00" cy="221.35" r="2.55" fill="#E44C1C" stroke="#4E1608" stroke-width="1.1"/>
<circle cx="356.40" cy="223.35" r="2.55" fill="#E44C1C" stroke="#4E1608" stroke-width="1.1"/>
<circle cx="361.90" cy="229.55" r="2.55" fill="#E44C1C" stroke="#4E1608" stroke-width="1.1"/>
<circle cx="365.00" cy="232.35" r="2.55" fill="#E44C1C" stroke="#4E1608" stroke-width="1.1"/>
<circle cx="367.90" cy="228.15" r="2.55" fill="#E44C1C" stroke="#4E1608" stroke-width="1.1"/>
<circle cx="347.90" cy="232.35" r="2.55" fill="#E44C1C" stroke="#4E1608" stroke-width="1.1"/>
<circle cx="355.40" cy="232.85" r="2.55" fill="#E44C1C" stroke="#4E1608" stroke-width="1.1"/>
<circle cx="353.60" cy="237.15" r="2.55" fill="#E44C1C" stroke="#4E1608" stroke-width="1.1"/>
<circle cx="360.40" cy="238.55" r="2.55" fill="#E44C1C" stroke="#4E1608" stroke-width="1.1"/>
<circle cx="367.40" cy="237.15" r="2.55" fill="#E44C1C" stroke="#4E1608" stroke-width="1.1"/>
<circle cx="347.60" cy="243.85" r="2.55" fill="#E44C1C" stroke="#4E1608" stroke-width="1.1"/>
<circle cx="351.60" cy="242.35" r="2.55" fill="#E44C1C" stroke="#4E1608" stroke-width="1.1"/>
<circle cx="354.30" cy="248.65" r="2.55" fill="#E44C1C" stroke="#4E1608" stroke-width="1.1"/>
<circle cx="358.30" cy="246.35" r="2.55" fill="#E44C1C" stroke="#4E1608" stroke-width="1.1"/>
<circle cx="363.60" cy="243.55" r="2.55" fill="#E44C1C" stroke="#4E1608" stroke-width="1.1"/>
<circle cx="354.30" cy="250.95" r="2.55" fill="#E44C1C" stroke="#4E1608" stroke-width="1.1"/>
<circle cx="407.10" cy="215.65" r="2.55" fill="#E44C1C" stroke="#4E1608" stroke-width="1.1"/>
<circle cx="383.60" cy="217.15" r="2.55" fill="#E44C1C" stroke="#4E1608" stroke-width="1.1"/>
<circle cx="387.90" cy="215.25" r="2.55" fill="#E44C1C" stroke="#4E1608" stroke-width="1.1"/>
<circle cx="387.90" cy="218.55" r="2.55" fill="#E44C1C" stroke="#4E1608" stroke-width="1.1"/>
<circle cx="382.10" cy="219.55" r="2.55" fill="#E44C1C" stroke="#4E1608" stroke-width="1.1"/>
<circle cx="384.70" cy="223.15" r="2.55" fill="#E44C1C" stroke="#4E1608" stroke-width="1.1"/>
<circle cx="385.70" cy="225.65" r="2.55" fill="#E44C1C" stroke="#4E1608" stroke-width="1.1"/>
<circle cx="376.40" cy="223.35" r="2.55" fill="#E44C1C" stroke="#4E1608" stroke-width="1.1"/>
<circle cx="373.60" cy="225.65" r="2.55" fill="#E44C1C" stroke="#4E1608" stroke-width="1.1"/>
<circle cx="374.70" cy="228.15" r="2.55" fill="#E44C1C" stroke="#4E1608" stroke-width="1.1"/>
<circle cx="379.60" cy="229.55" r="2.55" fill="#E44C1C" stroke="#4E1608" stroke-width="1.1"/>
<circle cx="362.60" cy="251.25" r="2.55" fill="#E44C1C" stroke="#4E1608" stroke-width="1.1"/>
<circle cx="339.30" cy="256.95" r="2.55" fill="#E44C1C" stroke="#4E1608" stroke-width="1.1"/>
<circle cx="348.30" cy="256.95" r="2.55" fill="#E44C1C" stroke="#4E1608" stroke-width="1.1"/>
<circle cx="350.10" cy="255.55" r="2.55" fill="#E44C1C" stroke="#4E1608" stroke-width="1.1"/>
<circle cx="345.90" cy="260.65" r="2.55" fill="#E44C1C" stroke="#4E1608" stroke-width="1.1"/>
<circle cx="349.00" cy="260.95" r="2.55" fill="#E44C1C" stroke="#4E1608" stroke-width="1.1"/>
<circle cx="351.10" cy="263.15" r="2.55" fill="#E44C1C" stroke="#4E1608" stroke-width="1.1"/>
<circle cx="343.60" cy="265.25" r="2.55" fill="#E44C1C" stroke="#4E1608" stroke-width="1.1"/>
<circle cx="308.30" cy="271.25" r="2.55" fill="#E44C1C" stroke="#4E1608" stroke-width="1.1"/>
<circle cx="313.60" cy="269.55" r="2.55" fill="#E44C1C" stroke="#4E1608" stroke-width="1.1"/>
<circle cx="324.70" cy="273.15" r="2.55" fill="#E44C1C" stroke="#4E1608" stroke-width="1.1"/>
<circle cx="331.10" cy="273.15" r="2.55" fill="#E44C1C" stroke="#4E1608" stroke-width="1.1"/>
<circle cx="335.00" cy="270.95" r="2.55" fill="#E44C1C" stroke="#4E1608" stroke-width="1.1"/>
<circle cx="337.30" cy="274.55" r="2.55" fill="#E44C1C" stroke="#4E1608" stroke-width="1.1"/>
<circle cx="342.60" cy="271.35" r="2.55" fill="#E44C1C" stroke="#4E1608" stroke-width="1.1"/>
<circle cx="310.20" cy="281.25" r="2.55" fill="#E44C1C" stroke="#4E1608" stroke-width="1.1"/>
<circle cx="328.70" cy="282.65" r="2.55" fill="#E44C1C" stroke="#4E1608" stroke-width="1.1"/>
<circle cx="331.10" cy="286.15" r="2.55" fill="#E44C1C" stroke="#4E1608" stroke-width="1.1"/>
<circle cx="297.90" cy="291.65" r="2.55" fill="#E44C1C" stroke="#4E1608" stroke-width="1.1"/>
<circle cx="320.40" cy="293.15" r="2.55" fill="#E44C1C" stroke="#4E1608" stroke-width="1.1"/>
<circle cx="298.30" cy="305.55" r="2.55" fill="#E44C1C" stroke="#4E1608" stroke-width="1.1"/>
<circle cx="309.00" cy="303.85" r="2.55" fill="#E44C1C" stroke="#4E1608" stroke-width="1.1"/>
<circle cx="285.40" cy="315.25" r="2.55" fill="#E44C1C" stroke="#4E1608" stroke-width="1.1"/>
<circle cx="590.00" cy="185.95" r="2.55" fill="#E44C1C" stroke="#4E1608" stroke-width="1.1"/>
<circle cx="596.90" cy="190.95" r="2.55" fill="#E44C1C" stroke="#4E1608" stroke-width="1.1"/>
<circle cx="589.30" cy="193.15" r="2.55" fill="#E44C1C" stroke="#4E1608" stroke-width="1.1"/>
<circle cx="587.10" cy="197.65" r="2.55" fill="#E44C1C" stroke="#4E1608" stroke-width="1.1"/>
<circle cx="585.40" cy="199.95" r="2.55" fill="#E44C1C" stroke="#4E1608" stroke-width="1.1"/>
<circle cx="581.40" cy="202.35" r="2.55" fill="#E44C1C" stroke="#4E1608" stroke-width="1.1"/>
<circle cx="583.60" cy="202.85" r="2.55" fill="#E44C1C" stroke="#4E1608" stroke-width="1.1"/>
<circle cx="598.60" cy="201.65" r="2.55" fill="#E44C1C" stroke="#4E1608" stroke-width="1.1"/>
<circle cx="585.70" cy="205.65" r="2.55" fill="#E44C1C" stroke="#4E1608" stroke-width="1.1"/>
<circle cx="590.00" cy="204.85" r="2.55" fill="#E44C1C" stroke="#4E1608" stroke-width="1.1"/>
<circle cx="589.30" cy="208.15" r="2.55" fill="#E44C1C" stroke="#4E1608" stroke-width="1.1"/>
<circle cx="541.70" cy="204.25" r="2.55" fill="#E44C1C" stroke="#4E1608" stroke-width="1.1"/>
<circle cx="543.60" cy="207.35" r="2.55" fill="#E44C1C" stroke="#4E1608" stroke-width="1.1"/>
<circle cx="546.60" cy="209.85" r="2.55" fill="#E44C1C" stroke="#4E1608" stroke-width="1.1"/>
<circle cx="518.30" cy="208.65" r="2.55" fill="#E44C1C" stroke="#4E1608" stroke-width="1.1"/>
<circle cx="531.70" cy="209.05" r="2.55" fill="#E44C1C" stroke="#4E1608" stroke-width="1.1"/>
<circle cx="605.70" cy="178.85" r="2.55" fill="#E44C1C" stroke="#4E1608" stroke-width="1.1"/>
<circle cx="607.10" cy="190.25" r="2.55" fill="#E44C1C" stroke="#4E1608" stroke-width="1.1"/>
<circle cx="631.40" cy="202.35" r="2.55" fill="#E44C1C" stroke="#4E1608" stroke-width="1.1"/>
<circle cx="637.60" cy="204.05" r="2.55" fill="#E44C1C" stroke="#4E1608" stroke-width="1.1"/>
<circle cx="644.70" cy="206.15" r="2.55" fill="#E44C1C" stroke="#4E1608" stroke-width="1.1"/>
<circle cx="612.10" cy="209.85" r="2.55" fill="#E44C1C" stroke="#4E1608" stroke-width="1.1"/>
<circle cx="565.30" cy="214.15" r="2.55" fill="#E44C1C" stroke="#4E1608" stroke-width="1.1"/>
<circle cx="561.30" cy="226.95" r="2.55" fill="#E44C1C" stroke="#4E1608" stroke-width="1.1"/>
<circle cx="566.40" cy="222.95" r="2.55" fill="#E44C1C" stroke="#4E1608" stroke-width="1.1"/>
<circle cx="571.00" cy="224.45" r="2.55" fill="#E44C1C" stroke="#4E1608" stroke-width="1.1"/>
<circle cx="576.10" cy="221.45" r="2.55" fill="#E44C1C" stroke="#4E1608" stroke-width="1.1"/>
<circle cx="577.90" cy="229.45" r="2.55" fill="#E44C1C" stroke="#4E1608" stroke-width="1.1"/>
<circle cx="582.20" cy="229.05" r="2.55" fill="#E44C1C" stroke="#4E1608" stroke-width="1.1"/>
<circle cx="578.40" cy="235.85" r="2.55" fill="#E44C1C" stroke="#4E1608" stroke-width="1.1"/>
<circle cx="581.50" cy="239.75" r="2.55" fill="#E44C1C" stroke="#4E1608" stroke-width="1.1"/>
<circle cx="584.70" cy="241.85" r="2.55" fill="#E44C1C" stroke="#4E1608" stroke-width="1.1"/>
<circle cx="591.30" cy="242.95" r="2.55" fill="#E44C1C" stroke="#4E1608" stroke-width="1.1"/>
<circle cx="587.20" cy="220.65" r="2.55" fill="#E44C1C" stroke="#4E1608" stroke-width="1.1"/>
<circle cx="587.60" cy="226.35" r="2.55" fill="#E44C1C" stroke="#4E1608" stroke-width="1.1"/>
<circle cx="587.90" cy="231.35" r="2.55" fill="#E44C1C" stroke="#4E1608" stroke-width="1.1"/>
<circle cx="596.70" cy="221.25" r="2.55" fill="#E44C1C" stroke="#4E1608" stroke-width="1.1"/>
<circle cx="595.60" cy="225.25" r="2.55" fill="#E44C1C" stroke="#4E1608" stroke-width="1.1"/>
<circle cx="601.30" cy="226.95" r="2.55" fill="#E44C1C" stroke="#4E1608" stroke-width="1.1"/>
<circle cx="599.00" cy="229.25" r="2.55" fill="#E44C1C" stroke="#4E1608" stroke-width="1.1"/>
<circle cx="593.90" cy="232.15" r="2.55" fill="#E44C1C" stroke="#4E1608" stroke-width="1.1"/>
<circle cx="597.30" cy="233.25" r="2.55" fill="#E44C1C" stroke="#4E1608" stroke-width="1.1"/>
<circle cx="595.60" cy="235.55" r="2.55" fill="#E44C1C" stroke="#4E1608" stroke-width="1.1"/>
<circle cx="602.40" cy="236.35" r="2.55" fill="#E44C1C" stroke="#4E1608" stroke-width="1.1"/>
<circle cx="586.90" cy="249.25" r="2.55" fill="#E44C1C" stroke="#4E1608" stroke-width="1.1"/>
<circle cx="572.90" cy="248.85" r="2.55" fill="#E44C1C" stroke="#4E1608" stroke-width="1.1"/>
<circle cx="568.30" cy="251.75" r="2.55" fill="#E44C1C" stroke="#4E1608" stroke-width="1.1"/>
<circle cx="554.30" cy="246.35" r="2.55" fill="#E44C1C" stroke="#4E1608" stroke-width="1.1"/>
<circle cx="531.70" cy="255.05" r="2.55" fill="#E44C1C" stroke="#4E1608" stroke-width="1.1"/>
<circle cx="607.30" cy="217.25" r="2.55" fill="#E44C1C" stroke="#4E1608" stroke-width="1.1"/>
<circle cx="611.60" cy="216.75" r="2.55" fill="#E44C1C" stroke="#4E1608" stroke-width="1.1"/>
<circle cx="634.70" cy="218.85" r="2.55" fill="#E44C1C" stroke="#4E1608" stroke-width="1.1"/>
<circle cx="640.40" cy="216.35" r="2.55" fill="#E44C1C" stroke="#4E1608" stroke-width="1.1"/>
<circle cx="628.10" cy="223.15" r="2.55" fill="#E44C1C" stroke="#4E1608" stroke-width="1.1"/>
<circle cx="645.30" cy="228.15" r="2.55" fill="#E44C1C" stroke="#4E1608" stroke-width="1.1"/>
<circle cx="613.30" cy="228.55" r="2.55" fill="#E44C1C" stroke="#4E1608" stroke-width="1.1"/>
<circle cx="610.40" cy="232.35" r="2.55" fill="#E44C1C" stroke="#4E1608" stroke-width="1.1"/>
<circle cx="607.80" cy="243.65" r="2.55" fill="#E44C1C" stroke="#4E1608" stroke-width="1.1"/>
<circle cx="617.20" cy="241.45" r="2.55" fill="#E44C1C" stroke="#4E1608" stroke-width="1.1"/>
<circle cx="622.20" cy="239.65" r="2.55" fill="#E44C1C" stroke="#4E1608" stroke-width="1.1"/>
<circle cx="625.30" cy="236.95" r="2.55" fill="#E44C1C" stroke="#4E1608" stroke-width="1.1"/>
<circle cx="628.60" cy="246.95" r="2.55" fill="#E44C1C" stroke="#4E1608" stroke-width="1.1"/>
<circle cx="642.10" cy="242.65" r="2.55" fill="#E44C1C" stroke="#4E1608" stroke-width="1.1"/>
<circle cx="643.60" cy="246.65" r="2.55" fill="#E44C1C" stroke="#4E1608" stroke-width="1.1"/>
<circle cx="601.40" cy="252.55" r="2.55" fill="#E44C1C" stroke="#4E1608" stroke-width="1.1"/>
<circle cx="542.60" cy="271.35" r="2.55" fill="#E44C1C" stroke="#4E1608" stroke-width="1.1"/>
<circle cx="558.30" cy="260.25" r="2.55" fill="#E44C1C" stroke="#4E1608" stroke-width="1.1"/>
<circle cx="592.60" cy="261.35" r="2.55" fill="#E44C1C" stroke="#4E1608" stroke-width="1.1"/>
<circle cx="615.70" cy="259.55" r="2.55" fill="#E44C1C" stroke="#4E1608" stroke-width="1.1"/>
<circle cx="622.40" cy="256.25" r="2.55" fill="#E44C1C" stroke="#4E1608" stroke-width="1.1"/>
<circle cx="619.60" cy="262.35" r="2.55" fill="#E44C1C" stroke="#4E1608" stroke-width="1.1"/>
<circle cx="622.40" cy="260.95" r="2.55" fill="#E44C1C" stroke="#4E1608" stroke-width="1.1"/>
<circle cx="632.40" cy="259.95" r="2.55" fill="#E44C1C" stroke="#4E1608" stroke-width="1.1"/>
<circle cx="633.60" cy="263.85" r="2.55" fill="#E44C1C" stroke="#4E1608" stroke-width="1.1"/>
<circle cx="639.60" cy="261.95" r="2.55" fill="#E44C1C" stroke="#4E1608" stroke-width="1.1"/>
<circle cx="641.00" cy="266.25" r="2.55" fill="#E44C1C" stroke="#4E1608" stroke-width="1.1"/>
<circle cx="653.30" cy="258.85" r="2.55" fill="#E44C1C" stroke="#4E1608" stroke-width="1.1"/>
<circle cx="618.60" cy="268.85" r="2.55" fill="#E44C1C" stroke="#4E1608" stroke-width="1.1"/>
<circle cx="619.00" cy="273.15" r="2.55" fill="#E44C1C" stroke="#4E1608" stroke-width="1.1"/>
<circle cx="631.00" cy="270.25" r="2.55" fill="#E44C1C" stroke="#4E1608" stroke-width="1.1"/>
<circle cx="641.00" cy="301.35" r="2.55" fill="#E44C1C" stroke="#4E1608" stroke-width="1.1"/>
<line x1="52.1" y1="140.6" x2="217.1" y2="28.6" stroke="#111" stroke-width="1.2"/>
<line x1="285.9" y1="153.6" x2="452.4" y2="24.4" stroke="#111" stroke-width="1.2"/>
<line x1="519.3" y1="19.4" x2="686.7" y2="156.0" stroke="#111" stroke-width="1.2"/>
<line x1="54.4" y1="275.1" x2="185.9" y2="188.6" stroke="#111" stroke-width="1.2"/>
<line x1="285.4" y1="315.0" x2="419.6" y2="179.7" stroke="#111" stroke-width="1.2"/>
<circle cx="571.8" cy="232.4" r="2.6" fill="#2a0c02" stroke="#111" stroke-width="0.8"/>
<rect x="96.10" y="68.30" width="5.6" height="5.6" fill="#000"/>
<path d="M106.70,76.54 L109.90,82.30 L103.50,82.30Z" fill="#000"/>
<rect x="95.30" y="257.50" width="5.6" height="5.6" fill="#000"/>
<path d="M106.70,256.24 L109.90,262.00 L103.50,262.00Z" fill="#000"/>
<rect x="329.10" y="106.30" width="5.6" height="5.6" fill="#000"/>
<path d="M340.10,107.84 L343.30,113.60 L336.90,113.60Z" fill="#000"/>
<rect x="329.80" y="278.20" width="5.6" height="5.6" fill="#000"/>
<path d="M340.40,273.24 L343.60,279.00 L337.20,279.00Z" fill="#000"/>
<rect x="563.20" y="25.60" width="5.6" height="5.6" fill="#000"/>
<path d="M574.00,32.14 L577.20,37.90 L570.80,37.90Z" fill="#000"/>
<rect x="563.20" y="225.60" width="5.6" height="5.6" fill="#000"/>
<path d="M574.00,227.94 L577.20,233.70 L570.80,233.70Z" fill="#000"/>
<rect x="35.3" y="3.3" width="193.20" height="157.70" fill="none" stroke="#454540" stroke-width="1.4"/>
<rect x="269.5" y="3.3" width="193.00" height="157.70" fill="none" stroke="#454540" stroke-width="1.4"/>
<rect x="502.6" y="3.3" width="192.90" height="157.70" fill="none" stroke="#454540" stroke-width="1.4"/>
<rect x="35.3" y="161.0" width="193.20" height="157.30" fill="none" stroke="#454540" stroke-width="1.4"/>
<rect x="269.5" y="161.0" width="193.00" height="157.30" fill="none" stroke="#454540" stroke-width="1.4"/>
<rect x="502.6" y="161.0" width="192.90" height="157.30" fill="none" stroke="#454540" stroke-width="1.4"/>
<line x1="73.94" y1="161.0" x2="73.94" y2="158.4" stroke="#2d2d2d" stroke-width="0.9"/>
<line x1="112.58" y1="161.0" x2="112.58" y2="158.4" stroke="#2d2d2d" stroke-width="0.9"/>
<line x1="151.22" y1="161.0" x2="151.22" y2="158.4" stroke="#2d2d2d" stroke-width="0.9"/>
<line x1="189.86" y1="161.0" x2="189.86" y2="158.4" stroke="#2d2d2d" stroke-width="0.9"/>
<line x1="73.94" y1="318.3" x2="73.94" y2="315.7" stroke="#2d2d2d" stroke-width="0.9"/>
<line x1="112.58" y1="318.3" x2="112.58" y2="315.7" stroke="#2d2d2d" stroke-width="0.9"/>
<line x1="151.22" y1="318.3" x2="151.22" y2="315.7" stroke="#2d2d2d" stroke-width="0.9"/>
<line x1="189.86" y1="318.3" x2="189.86" y2="315.7" stroke="#2d2d2d" stroke-width="0.9"/>
<text x="35.30" y="331.5" font-size="8.6" text-anchor="middle" fill="#222">86</text>
<text x="73.94" y="331.5" font-size="8.6" text-anchor="middle" fill="#222">88</text>
<text x="112.58" y="331.5" font-size="8.6" text-anchor="middle" fill="#222">90</text>
<text x="151.22" y="331.5" font-size="8.6" text-anchor="middle" fill="#222">92</text>
<text x="189.86" y="331.5" font-size="8.6" text-anchor="middle" fill="#222">94</text>
<text x="228.50" y="331.5" font-size="8.6" text-anchor="middle" fill="#222">96</text>
<line x1="308.10" y1="161.0" x2="308.10" y2="158.4" stroke="#2d2d2d" stroke-width="0.9"/>
<line x1="346.70" y1="161.0" x2="346.70" y2="158.4" stroke="#2d2d2d" stroke-width="0.9"/>
<line x1="385.30" y1="161.0" x2="385.30" y2="158.4" stroke="#2d2d2d" stroke-width="0.9"/>
<line x1="423.90" y1="161.0" x2="423.90" y2="158.4" stroke="#2d2d2d" stroke-width="0.9"/>
<line x1="308.10" y1="318.3" x2="308.10" y2="315.7" stroke="#2d2d2d" stroke-width="0.9"/>
<line x1="346.70" y1="318.3" x2="346.70" y2="315.7" stroke="#2d2d2d" stroke-width="0.9"/>
<line x1="385.30" y1="318.3" x2="385.30" y2="315.7" stroke="#2d2d2d" stroke-width="0.9"/>
<line x1="423.90" y1="318.3" x2="423.90" y2="315.7" stroke="#2d2d2d" stroke-width="0.9"/>
<text x="269.50" y="331.5" font-size="8.6" text-anchor="middle" fill="#222">86</text>
<text x="308.10" y="331.5" font-size="8.6" text-anchor="middle" fill="#222">88</text>
<text x="346.70" y="331.5" font-size="8.6" text-anchor="middle" fill="#222">90</text>
<text x="385.30" y="331.5" font-size="8.6" text-anchor="middle" fill="#222">92</text>
<text x="423.90" y="331.5" font-size="8.6" text-anchor="middle" fill="#222">94</text>
<text x="462.50" y="331.5" font-size="8.6" text-anchor="middle" fill="#222">96</text>
<line x1="541.18" y1="161.0" x2="541.18" y2="158.4" stroke="#2d2d2d" stroke-width="0.9"/>
<line x1="579.76" y1="161.0" x2="579.76" y2="158.4" stroke="#2d2d2d" stroke-width="0.9"/>
<line x1="618.34" y1="161.0" x2="618.34" y2="158.4" stroke="#2d2d2d" stroke-width="0.9"/>
<line x1="656.92" y1="161.0" x2="656.92" y2="158.4" stroke="#2d2d2d" stroke-width="0.9"/>
<line x1="541.18" y1="318.3" x2="541.18" y2="315.7" stroke="#2d2d2d" stroke-width="0.9"/>
<line x1="579.76" y1="318.3" x2="579.76" y2="315.7" stroke="#2d2d2d" stroke-width="0.9"/>
<line x1="618.34" y1="318.3" x2="618.34" y2="315.7" stroke="#2d2d2d" stroke-width="0.9"/>
<line x1="656.92" y1="318.3" x2="656.92" y2="315.7" stroke="#2d2d2d" stroke-width="0.9"/>
<text x="502.60" y="331.5" font-size="8.6" text-anchor="middle" fill="#222">86</text>
<text x="541.18" y="331.5" font-size="8.6" text-anchor="middle" fill="#222">88</text>
<text x="579.76" y="331.5" font-size="8.6" text-anchor="middle" fill="#222">90</text>
<text x="618.34" y="331.5" font-size="8.6" text-anchor="middle" fill="#222">92</text>
<text x="656.92" y="331.5" font-size="8.6" text-anchor="middle" fill="#222">94</text>
<text x="695.50" y="331.5" font-size="8.6" text-anchor="middle" fill="#222">96</text>
<line x1="35.3" y1="43.00" x2="37.9" y2="43.00" stroke="#2d2d2d" stroke-width="0.9"/>
<text x="31" y="46.10" font-size="8.6" text-anchor="end" fill="#222">2.145</text>
<line x1="35.3" y1="82.60" x2="37.9" y2="82.60" stroke="#2d2d2d" stroke-width="0.9"/>
<text x="31" y="85.70" font-size="8.6" text-anchor="end" fill="#222">2.14</text>
<line x1="35.3" y1="121.80" x2="37.9" y2="121.80" stroke="#2d2d2d" stroke-width="0.9"/>
<text x="31" y="124.90" font-size="8.6" text-anchor="end" fill="#222">2.135</text>
<text x="31" y="6.60" font-size="8.6" text-anchor="end" fill="#222">2.15</text>
<text x="31" y="165.40" font-size="8.6" text-anchor="end" fill="#222">2.10</text>
<text x="40.3" y="46.40" font-size="8.3" font-style="italic" fill="#222">8.542</text>
<text x="40.3" y="86.00" font-size="8.3" font-style="italic" fill="#222">8.499</text>
<text x="40.3" y="125.20" font-size="8.3" font-style="italic" fill="#222">8.457</text>
<line x1="35.3" y1="192.46" x2="37.9" y2="192.46" stroke="#2d2d2d" stroke-width="0.9"/>
<text x="31" y="195.56" font-size="8.6" text-anchor="end" fill="#222">2.09</text>
<line x1="35.3" y1="223.92" x2="37.9" y2="223.92" stroke="#2d2d2d" stroke-width="0.9"/>
<text x="31" y="227.02" font-size="8.6" text-anchor="end" fill="#222">2.08</text>
<line x1="35.3" y1="255.38" x2="37.9" y2="255.38" stroke="#2d2d2d" stroke-width="0.9"/>
<text x="31" y="258.48" font-size="8.6" text-anchor="end" fill="#222">2.07</text>
<line x1="35.3" y1="286.84" x2="37.9" y2="286.84" stroke="#2d2d2d" stroke-width="0.9"/>
<text x="31" y="289.94" font-size="8.6" text-anchor="end" fill="#222">2.06</text>
<text x="31" y="321.40" font-size="8.6" text-anchor="end" fill="#222">2.05</text>
<text x="40.3" y="195.86" font-size="8.3" font-style="italic" fill="#222">8.085</text>
<text x="40.3" y="227.32" font-size="8.3" font-style="italic" fill="#222">8.004</text>
<text x="40.3" y="258.78" font-size="8.3" font-style="italic" fill="#222">7.925</text>
<text x="40.3" y="290.24" font-size="8.3" font-style="italic" fill="#222">7.846</text>
<line x1="269.5" y1="48.15" x2="272.1" y2="48.15" stroke="#2d2d2d" stroke-width="0.9"/>
<text x="266" y="51.25" font-size="8.6" text-anchor="end" fill="#222">1.57</text>
<line x1="269.5" y1="93.00" x2="272.1" y2="93.00" stroke="#2d2d2d" stroke-width="0.9"/>
<text x="266" y="96.10" font-size="8.6" text-anchor="end" fill="#222">1.56</text>
<line x1="269.5" y1="137.85" x2="272.1" y2="137.85" stroke="#2d2d2d" stroke-width="0.9"/>
<text x="266" y="140.95" font-size="8.6" text-anchor="end" fill="#222">1.55</text>
<text x="266" y="6.60" font-size="8.6" text-anchor="end" fill="#222">1.58</text>
<text x="266" y="165.90" font-size="8.6" text-anchor="end" fill="#222">1.55</text>
<line x1="269.5" y1="25.70" x2="272.1" y2="25.70" stroke="#2d2d2d" stroke-width="0.9"/>
<text x="274" y="29.10" font-size="8.3" font-style="italic" fill="#222">4.831</text>
<text x="274" y="52.20" font-size="8.3" font-style="italic" fill="#222">4.806</text>
<line x1="269.5" y1="70.70" x2="272.1" y2="70.70" stroke="#2d2d2d" stroke-width="0.9"/>
<text x="274" y="74.10" font-size="8.3" font-style="italic" fill="#222">4.783</text>
<text x="274" y="95.70" font-size="8.3" font-style="italic" fill="#222">4.759</text>
<line x1="269.5" y1="114.70" x2="272.1" y2="114.70" stroke="#2d2d2d" stroke-width="0.9"/>
<text x="274" y="118.10" font-size="8.3" font-style="italic" fill="#222">4.735</text>
<text x="274" y="141.20" font-size="8.3" font-style="italic" fill="#222">4.711</text>
<line x1="269.5" y1="200.30" x2="272.1" y2="200.30" stroke="#2d2d2d" stroke-width="0.9"/>
<text x="266" y="203.40" font-size="8.6" text-anchor="end" fill="#222">1.54</text>
<line x1="269.5" y1="239.60" x2="272.1" y2="239.60" stroke="#2d2d2d" stroke-width="0.9"/>
<text x="266" y="242.70" font-size="8.6" text-anchor="end" fill="#222">1.53</text>
<line x1="269.5" y1="278.90" x2="272.1" y2="278.90" stroke="#2d2d2d" stroke-width="0.9"/>
<text x="266" y="282.00" font-size="8.6" text-anchor="end" fill="#222">1.52</text>
<text x="266" y="321.40" font-size="8.6" text-anchor="end" fill="#222">1.51</text>
<line x1="269.5" y1="181.30" x2="272.1" y2="181.30" stroke="#2d2d2d" stroke-width="0.9"/>
<text x="274" y="184.70" font-size="8.3" font-style="italic" fill="#222">4.688</text>
<text x="274" y="205.00" font-size="8.3" font-style="italic" fill="#222">4.664</text>
<line x1="269.5" y1="220.00" x2="272.1" y2="220.00" stroke="#2d2d2d" stroke-width="0.9"/>
<text x="274" y="223.40" font-size="8.3" font-style="italic" fill="#222">4.641</text>
<text x="274" y="243.40" font-size="8.3" font-style="italic" fill="#222">4.618</text>
<line x1="269.5" y1="259.30" x2="272.1" y2="259.30" stroke="#2d2d2d" stroke-width="0.9"/>
<text x="274" y="262.70" font-size="8.3" font-style="italic" fill="#222">4.595</text>
<text x="274" y="282.40" font-size="8.3" font-style="italic" fill="#222">4.572</text>
<line x1="269.5" y1="298.50" x2="272.1" y2="298.50" stroke="#2d2d2d" stroke-width="0.9"/>
<text x="274" y="301.90" font-size="8.3" font-style="italic" fill="#222">4.549</text>
<line x1="502.6" y1="29.58" x2="505.20000000000005" y2="29.58" stroke="#2d2d2d" stroke-width="0.9"/>
<line x1="502.6" y1="55.87" x2="505.20000000000005" y2="55.87" stroke="#2d2d2d" stroke-width="0.9"/>
<line x1="502.6" y1="82.15" x2="505.20000000000005" y2="82.15" stroke="#2d2d2d" stroke-width="0.9"/>
<line x1="502.6" y1="108.43" x2="505.20000000000005" y2="108.43" stroke="#2d2d2d" stroke-width="0.9"/>
<line x1="502.6" y1="134.72" x2="505.20000000000005" y2="134.72" stroke="#2d2d2d" stroke-width="0.9"/>
<text x="498.5" y="6.60" font-size="8.6" text-anchor="end" fill="#222">1.80</text>
<text x="498.5" y="59.00" font-size="8.6" text-anchor="end" fill="#222">1.79</text>
<text x="498.5" y="111.60" font-size="8.6" text-anchor="end" fill="#222">1.78</text>
<text x="498.5" y="161.90" font-size="8.6" text-anchor="end" fill="#222">1.77</text>
<line x1="502.6" y1="304.08" x2="505.20000000000005" y2="304.08" stroke="#2d2d2d" stroke-width="0.9"/>
<line x1="502.6" y1="289.86" x2="505.20000000000005" y2="289.86" stroke="#2d2d2d" stroke-width="0.9"/>
<line x1="502.6" y1="275.64" x2="505.20000000000005" y2="275.64" stroke="#2d2d2d" stroke-width="0.9"/>
<line x1="502.6" y1="261.42" x2="505.20000000000005" y2="261.42" stroke="#2d2d2d" stroke-width="0.9"/>
<line x1="502.6" y1="247.20" x2="505.20000000000005" y2="247.20" stroke="#2d2d2d" stroke-width="0.9"/>
<line x1="502.6" y1="232.98" x2="505.20000000000005" y2="232.98" stroke="#2d2d2d" stroke-width="0.9"/>
<line x1="502.6" y1="218.76" x2="505.20000000000005" y2="218.76" stroke="#2d2d2d" stroke-width="0.9"/>
<line x1="502.6" y1="204.54" x2="505.20000000000005" y2="204.54" stroke="#2d2d2d" stroke-width="0.9"/>
<line x1="502.6" y1="190.32" x2="505.20000000000005" y2="190.32" stroke="#2d2d2d" stroke-width="0.9"/>
<line x1="502.6" y1="176.10" x2="505.20000000000005" y2="176.10" stroke="#2d2d2d" stroke-width="0.9"/>
<text x="498.5" y="321.40" font-size="8.6" text-anchor="end" fill="#222">1.70</text>
<text x="498.5" y="292.96" font-size="8.6" text-anchor="end" fill="#222">1.71</text>
<text x="498.5" y="264.52" font-size="8.6" text-anchor="end" fill="#222">1.72</text>
<text x="498.5" y="236.08" font-size="8.6" text-anchor="end" fill="#222">1.73</text>
<text x="498.5" y="207.64" font-size="8.6" text-anchor="end" fill="#222">1.74</text>
<text x="498.5" y="179.20" font-size="8.6" text-anchor="end" fill="#222">1.75</text>
<text transform="translate(7.9,161.5) rotate(-90)" font-size="11.8" font-style="italic" text-anchor="middle" fill="#222">lnVp</text>
<text transform="translate(244,159.8) rotate(-90)" font-size="11.8" font-style="italic" text-anchor="middle" fill="#222">lnVs</text>
<text transform="translate(475.3,163.8) rotate(-90)" font-size="11.8" font-style="italic" text-anchor="middle" fill="#222">Vp/Vs</text>
<text x="365.4" y="347.2" font-size="11.2" font-style="italic" text-anchor="middle" fill="#222">Mg#</text>
<text x="36.6" y="15.4" font-size="13.5" font-weight="bold" fill="#111" stroke="#111" stroke-width="0.35">a</text>
<text x="272.2" y="15.7" font-size="13.5" font-weight="bold" fill="#111" stroke="#111" stroke-width="0.35">b</text>
<text x="505.3" y="15.9" font-size="13.5" font-weight="bold" fill="#111" stroke="#111" stroke-width="0.35">c</text>
<text x="36.6" y="174" font-size="13.5" font-weight="bold" fill="#111" stroke="#111" stroke-width="0.35">d</text>
<text x="272.0" y="172.0" font-size="13.5" font-weight="bold" fill="#111" stroke="#111" stroke-width="0.35">e</text>
<text x="505.8" y="173.6" font-size="13.5" font-weight="bold" fill="#111" stroke="#111" stroke-width="0.35">f</text>
<text x="222.5" y="19.3" font-size="13" font-style="italic" text-anchor="end" fill="#111">Gnt</text>
<text x="456.6" y="18.8" font-size="13" font-style="italic" text-anchor="end" fill="#111">Gnt</text>
<text x="689.3" y="18.6" font-size="13" font-style="italic" text-anchor="end" fill="#111">Gnt</text>
<text x="220.6" y="177.4" font-size="13" font-style="italic" text-anchor="end" fill="#111">Sp</text>
<text x="455.3" y="177.9" font-size="13" font-style="italic" text-anchor="end" fill="#111">Sp</text>
<text x="688.2" y="177.9" font-size="13" font-style="italic" text-anchor="end" fill="#111">Sp</text>
<text x="59.8" y="15.5" font-size="9.7" fill="#111"><tspan font-style="italic">lnVp</tspan> = 0.00166<tspan font-style="italic">Mg#</tspan> + 1.988</text>
<text x="60" y="26.5" font-size="9.7" fill="#111">r<tspan font-size="6.60" dy="-3.1">2</tspan><tspan dy="3.1" dx="-0.2">=0.65</tspan></text>
<text x="301" y="15.6" font-size="9.7" fill="#111"><tspan font-style="italic">lnVs</tspan> = 0.00335<tspan font-style="italic">Mg#</tspan> + 1.255</text>
<text x="301.6" y="27" font-size="9.7" fill="#111">r<tspan font-size="6.60" dy="-3.1">2</tspan><tspan dy="3.1" dx="-0.2">=0.88</tspan></text>
<text x="510" y="142.4" font-size="9.7" fill="#111"><tspan font-style="italic">Vp/Vs</tspan> = -0.00301<tspan font-style="italic">Mg#</tspan> + 2.0582</text>
<text x="510.6" y="155.6" font-size="9.7" fill="#111">r<tspan font-size="6.60" dy="-3.1">2</tspan><tspan dy="3.1" dx="-0.2">=0.84</tspan></text>
<text x="99" y="302" font-size="9.7" fill="#111"><tspan font-style="italic">lnVp</tspan> = 0.00408<tspan font-style="italic">Mg#</tspan> + 1.7087</text>
<text x="99.6" y="313" font-size="9.7" fill="#111">r<tspan font-size="6.60" dy="-3.1">2</tspan><tspan dy="3.1" dx="-0.2">=0.46</tspan></text>
<text x="327.4" y="301.2" font-size="9.7" fill="#111"><tspan font-style="italic">lnVs</tspan> = 0.00493<tspan font-style="italic">Mg#</tspan> + 1.08282</text>
<text x="327.8" y="312.3" font-size="9.7" fill="#111">r<tspan font-size="6.60" dy="-3.1">2</tspan><tspan dy="3.1" dx="-0.2">=0.89</tspan></text>
<text x="174.4" y="139.9" font-size="8.9" font-style="italic" fill="#111">P<tspan font-size="5" dy="2.6">o</tspan><tspan dy="-2.6"> = 6 GPa</tspan></text>
<text x="174.4" y="151.5" font-size="8.9" font-style="italic" fill="#111">T<tspan font-size="5" dy="2.6">o</tspan><tspan dy="-2.6"> = 800&#160; °C</tspan></text>
<text x="60.2" y="171.6" font-size="8.9" font-style="italic" fill="#111">P<tspan font-size="5" dy="2.6">o</tspan><tspan dy="-2.6"> = 1.5 GPa</tspan></text>
<text x="60.2" y="182.4" font-size="8.9" font-style="italic" fill="#111">T<tspan font-size="5" dy="2.6">o</tspan><tspan dy="-2.6"> = 800 °C</tspan></text>
</svg></body></html>
